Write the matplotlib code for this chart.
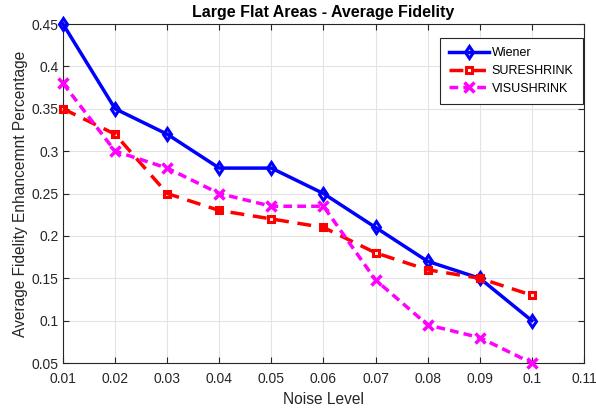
import matplotlib
matplotlib.use("Agg")
import matplotlib.pyplot as plt

noise = [0.01, 0.02, 0.03, 0.04, 0.05, 0.06, 0.07, 0.08, 0.09, 0.1]
wiener = [0.45, 0.35, 0.32, 0.28, 0.28, 0.25, 0.21, 0.17, 0.15, 0.10]
sureshrink = [0.35, 0.32, 0.25, 0.23, 0.22, 0.21, 0.18, 0.16, 0.15, 0.13]
visushrink = [0.38, 0.30, 0.28, 0.25, 0.235, 0.235, 0.148, 0.095, 0.08, 0.05]

xticks = [0.01, 0.02, 0.03, 0.04, 0.05, 0.06, 0.07, 0.08, 0.09, 0.1, 0.11]
xticklabels = ["0.01", "0.02", "0.03", "0.04", "0.05", "0.06", "0.07", "0.08", "0.09", "0.1", "0.11"]
yticks = [0.05, 0.1, 0.15, 0.2, 0.25, 0.3, 0.35, 0.4, 0.45]
yticklabels = ["0.05", "0.1", "0.15", "0.2", "0.25", "0.3", "0.35", "0.4", "0.45"]

plt.rcParams["font.family"] = ["Liberation Sans", "DejaVu Sans"]

fig = plt.figure(figsize=(5.96, 4.12), dpi=100)
ax = fig.add_axes([0.1057, 0.1189, 0.874, 0.8228])

ax.plot(noise, wiener, color="#0000ff", linestyle="-", linewidth=2.5,
        marker="d", markersize=6.5, markerfacecolor="none", markeredgewidth=2.2,
        label="Wiener", clip_on=False, zorder=3)
ax.plot(noise, sureshrink, color="#ff0000", linestyle=(0, (4, 2.5)), linewidth=2.5,
        marker="s", markersize=5, markerfacecolor="none", markeredgewidth=2.2,
        label="SURESHRINK", clip_on=False, zorder=3)
ax.plot(noise, visushrink, color="#ff00ff", linestyle=(0, (2.5, 1.5)), linewidth=2.5,
        marker="x", markersize=6.5, markeredgewidth=2.5,
        label="VISUSHRINK", clip_on=False, zorder=3)

ax.set_xlim(0.01, 0.11)
ax.set_ylim(0.05, 0.45)
ax.set_xticks(xticks)
ax.set_xticklabels(xticklabels)
ax.set_yticks(yticks)
ax.set_yticklabels(yticklabels)
ax.tick_params(direction="in", top=True, right=True, labelsize=10,
               colors="#262626", length=4, width=0.8)
ax.tick_params(axis="x", pad=6.5)
ax.tick_params(axis="y", pad=3)
ax.grid(True, color="#e3e3e3", linewidth=0.8)
for s in ax.spines.values():
    s.set_color("#262626")
    s.set_linewidth(0.8)

ax.set_title("Large Flat Areas - Average Fidelity", fontsize=11.5, fontweight="bold", pad=5)
ax.set_xlabel("Noise Level", fontsize=11.2, color="#262626", labelpad=4)
ax.set_ylabel("Average Fidelity Enhancemnt Percentage", fontsize=11.2, color="#262626", labelpad=3)

leg = ax.legend(loc="upper right", bbox_to_anchor=(0.998, 0.959), fontsize=9,
                fancybox=False, edgecolor="#262626", framealpha=1,
                handlelength=3.2, borderpad=0.75, labelspacing=0.45, handletextpad=0.2,
                borderaxespad=0)
leg.get_frame().set_linewidth(0.8)

fig.savefig("out.png", dpi=100)
